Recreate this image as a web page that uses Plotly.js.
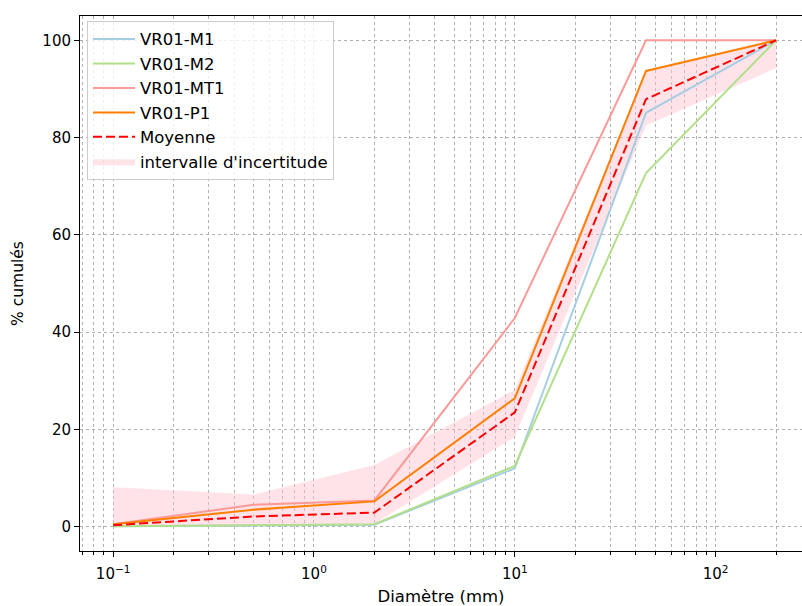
<!DOCTYPE html>
<html>
<head>
<meta charset="utf-8">
<script src="https://cdn.plot.ly/plotly-3.0.1.min.js"></script>
<style>
html,body{margin:0;padding:0;overflow:hidden;background:#fff;}
#chart{width:802px;height:606px;}
</style>
</head>
<body>
<div id="chart"></div>
<script>
// Diameters (mm)
const diametres = [0.1, 0.5, 2, 10, 45, 200];
// Cumulative percentages per sample
const vr01_m1  = [0.1, 0.3, 0.4, 12.0, 85.1, 100];
const vr01_m2  = [0.1, 0.3, 0.5, 12.5, 72.7, 100];
const vr01_mt1 = [0.5, 4.5, 5.4, 42.9, 100, 100];
const vr01_p1  = [0.5, 3.5, 5.2, 26.4, 93.7, 100];
const moyenne  = [0.3, 2.1, 2.9, 23.5, 87.9, 100];
// Uncertainty band
const bande_haut = [8.1, 6.6, 12.7, 28.1, 93.8, 100.3];
const bande_bas  = [0.0, 0.3, 0.6, 18.5, 82.5, 94.3];
// Tick labels
const xTickVals = [0.1, 1, 10, 100];
const xTickText = ['10<sup>−1</sup>', '10<sup>0</sup>', '10<sup>1</sup>', '10<sup>2</sup>'];
const yTickVals = [0, 20, 40, 60, 80, 100];

const minorVals = [];
for (let e = -2; e <= 2; e++) {
  for (let m = 2; m <= 9; m++) minorVals.push(m * Math.pow(10, e));
}

const FONT = 'DejaVu Sans, sans-serif';
const gridCol = '#b0b0b0';

const traces = [
  {x: diametres, y: bande_bas, mode: 'lines', line: {width: 0, color: 'rgba(255,192,203,0.4)'},
   showlegend: false, legendgroup: 'band', hoverinfo: 'skip'},
  {x: diametres, y: bande_haut, mode: 'lines', fill: 'tonexty', fillcolor: 'rgba(255,192,203,0.45)',
   line: {width: 0, color: 'rgba(255,192,203,0.45)'}, name: "intervalle d'incertitude",
   legendgroup: 'band', legendrank: 6},
  {x: diametres, y: vr01_m1, mode: 'lines', name: 'VR01-M1', line: {color: '#a6cee3', width: 2}, legendgroup: 'a', legendrank: 1},
  {x: diametres, y: vr01_m2, mode: 'lines', name: 'VR01-M2', line: {color: '#b2df8a', width: 2}, legendgroup: 'b', legendrank: 2},
  {x: diametres, y: vr01_mt1, mode: 'lines', name: 'VR01-MT1', line: {color: '#fb9a99', width: 2}, legendgroup: 'c', legendrank: 3},
  {x: diametres, y: vr01_p1, mode: 'lines', name: 'VR01-P1', line: {color: '#ff7f00', width: 2}, legendgroup: 'd', legendrank: 4},
  {x: diametres, y: moyenne, mode: 'lines', name: 'Moyenne', line: {color: '#ff0000', width: 2, dash: '9px,4px'}, legendgroup: 'e', legendrank: 5}
];

const layout = {
  width: 802, height: 606,
  margin: {l: 80, r: 0, t: 16, b: 55},
  paper_bgcolor: '#fff', plot_bgcolor: '#fff',
  font: {family: FONT, size: 15, color: '#000'},
  showlegend: true,
  legend: {
    x: 0.0097, y: 0.991, xanchor: 'left', yanchor: 'top',
    bgcolor: 'rgba(255,255,255,0.8)', bordercolor: '#cccccc', borderwidth: 1,
    font: {family: FONT, size: 16.5, color: '#000'},
    traceorder: 'grouped', tracegroupgap: 0, itemwidth: 42
  },
  xaxis: {
    type: 'log',
    range: [Math.log10(0.0684), 2.43],
    tickmode: 'array', tickvals: xTickVals, ticktext: xTickText,
    ticks: 'outside', ticklen: 5, tickcolor: '#000', tickwidth: 1,
    ticklabelstandoff: 4,
    showline: true, linecolor: '#000', linewidth: 1, mirror: true,
    showgrid: true, gridcolor: gridCol, griddash: 'dot', gridwidth: 1,
    zeroline: false,
    minor: {tickmode: 'array', tickvals: minorVals, ticks: 'outside', ticklen: 3, tickcolor: '#000',
            showgrid: true, gridcolor: gridCol, griddash: 'dot', gridwidth: 1},
    tickfont: {family: FONT, size: 15, color: '#000'},
    title: {text: 'Diamètre (mm)', font: {family: FONT, size: 16.5, color: '#000'}, standoff: 10}
  },
  yaxis: {
    range: [-5, 105],
    tickmode: 'array', tickvals: yTickVals,
    ticks: 'outside', ticklen: 5, tickcolor: '#000', tickwidth: 1,
    showline: true, linecolor: '#000', linewidth: 1, mirror: false,
    showgrid: true, gridcolor: gridCol, griddash: 'dot', gridwidth: 1,
    zeroline: false,
    tickfont: {family: FONT, size: 15, color: '#000'},
    title: {text: '% cumulés', font: {family: FONT, size: 15.5, color: '#000'}, standoff: 14}
  }
};

Plotly.newPlot('chart', traces, layout, {staticPlot: true, displayModeBar: false});
</script>
</body>
</html>
